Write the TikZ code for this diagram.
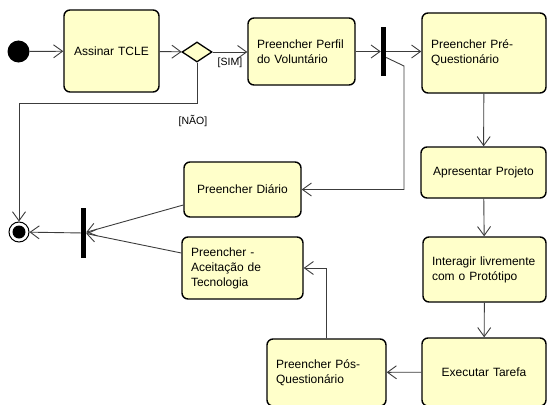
\documentclass[tikz,border=0pt]{standalone}
\usepackage{fontspec}
\setmainfont{Liberation Sans}
\usetikzlibrary{arrows.meta,shapes.geometric,calc}
\definecolor{actfill}{RGB}{255,255,202}
\definecolor{flowgray}{RGB}{60,60,60}
\begin{document}
\begin{tikzpicture}[x=1pt,y=-1pt,
  act/.style={draw=black, line width=1.4pt, fill=actfill, rounded corners=6pt,
    inner xsep=9pt, inner ysep=0pt, font=\fontsize{12}{15}\selectfont, align=left},
  bar/.style={fill=black, draw=none, inner sep=0pt, minimum width=5pt},
  guard/.style={font=\fontsize{10.5}{12}\selectfont, inner sep=2pt},
  flow/.style={draw=flowgray, line width=0.9pt,
    -{Straight Barb[length=9pt,width=13pt,line width=0.9pt]}}
]
\useasboundingbox (0,0) rectangle (548,404);
\clip (0,0) rectangle (548,404);

% start and end
\node[circle, fill=black, minimum size=22pt, inner sep=0pt] (init) at (18.5,51.5) {};
\node[circle, draw=black, line width=1pt, fill=white, minimum size=20pt, inner sep=0pt] (final) at (19,232) {};
\node[circle, fill=black, minimum size=13pt, inner sep=0pt] (finaldot) at (final) {};

% activities
\node[act, minimum width=95pt, text width=77pt, minimum height=82pt, align=center] (tcle) at (111.5,51) {Assinar TCLE};
\node[act, minimum width=107pt, text width=89pt, minimum height=67pt] (perfil) at (301.5,51.5) {Preencher Perfil\\do Voluntário};
\node[act, minimum width=124pt, text width=106pt, minimum height=80pt] (pre) at (484,53) {Preencher Pré-\\Questionário};
\node[act, minimum width=125pt, text width=107pt, minimum height=51pt, align=center] (apres) at (483.5,172.5) {Apresentar Projeto};
\node[act, minimum width=123pt, text width=105pt, minimum height=65pt] (inter) at (484.5,269.5) {Interagir livremente\\com o Protótipo};
\node[act, minimum width=124pt, text width=106pt, minimum height=68pt, align=center] (exec) at (484,372) {Executar Tarefa};
\node[act, minimum width=119pt, text width=101pt, minimum height=67pt] (pos) at (326.5,372.5) {Preencher Pós-\\Questionário};
\node[act, minimum width=121pt, text width=103pt, minimum height=62pt] (aceit) at (242.5,268) {Preencher -\\Aceitação de\\Tecnologia};
\node[act, minimum width=117pt, text width=99pt, minimum height=55pt, align=center] (diario) at (242.5,189.5) {Preencher Diário};

% decision, fork and join
\node[diamond, draw=black, line width=1.3pt, fill=actfill, inner sep=0pt,
  minimum width=30pt, minimum height=20pt] (dec) at (197,52) {};
\node[bar, minimum height=49pt] (fork) at (383.5,51.5) {};
\node[bar, minimum height=50pt] (join) at (83.5,233) {};

% flows
\draw[flow] (init) -- (tcle);
\draw[flow] (tcle) -- (dec);
\draw[flow] (dec) -- node[guard, below, yshift=-3pt] (sim) {[SIM]} (perfil.west |- dec);
\draw[flow] (dec.south) -- ++(0,41) -| (final.north);
\node[guard] (nao) at (193,121) {[NÃO]};
\draw[flow] (perfil) -- (fork);
\draw[flow] (fork.east) -- (pre.west |- fork.east);
\coordinate (forkbend) at (404,66);
\draw[flow] ($(fork.east)+(0,6)$) -- (forkbend) |- (diario.east);
\draw[flow] (pre) -- (apres);
\draw[flow] (apres) -- (inter);
\draw[flow] (inter) -- (exec);
\draw[flow] (exec) -- (pos);
\draw[flow] (pos.north) |- (aceit.east);
\draw[flow] ($(diario.west)+(0,15.5)$) -- (join);
\draw[flow] ($(aceit.west)+(0,-15)$) -- (join);
\draw[flow] (join) -- (final);
\end{tikzpicture}
\end{document}
